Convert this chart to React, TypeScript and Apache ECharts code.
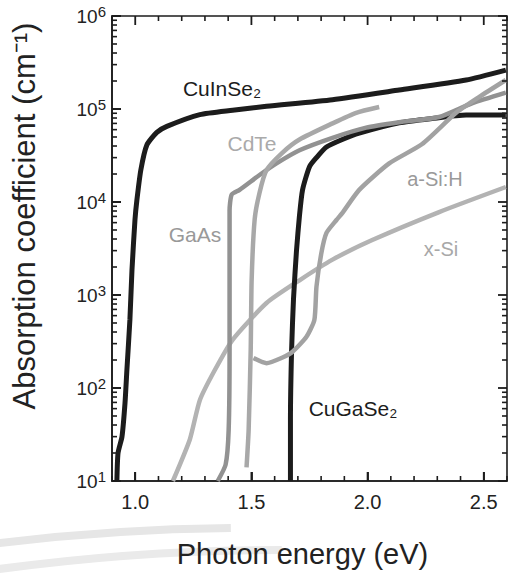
import React, { useEffect, useRef } from "react";
import * as echarts from "echarts";

// Axis ticks
const energyMajorTicks = [1.0, 1.5, 2.0, 2.5];
const energyMinorTicks = [0.9, 1.0, 1.1, 1.2, 1.3, 1.4, 1.5, 1.6, 1.7, 1.8, 1.9, 2.0, 2.1, 2.2, 2.3, 2.4, 2.5, 2.6];
const alphaMajorTicks = [10, 100, 1000, 10000, 100000, 1000000];
const alphaMinorTicks = [
  20, 30, 40, 50, 60, 70, 80, 90,
  200, 300, 400, 500, 600, 700, 800, 900,
  2000, 3000, 4000, 5000, 6000, 7000, 8000, 9000,
  20000, 30000, 40000, 50000, 60000, 70000, 80000, 90000,
  200000, 300000, 400000, 500000, 600000, 700000, 800000, 900000,
];

// [photon energy (eV), absorption coefficient (cm^-1)]
const cuInSe2 = [
  [0.921, 10], [0.926, 20], [0.943, 30], [0.956, 69], [0.964, 155], [0.977, 540],
  [0.986, 1860], [0.999, 6500], [1.007, 10400], [1.024, 22000], [1.05, 41000],
  [1.093, 56000], [1.136, 65000], [1.278, 87000], [1.419, 97000], [1.565, 107000],
  [1.849, 126000], [2.136, 160000], [2.424, 205000], [2.595, 262000],
];
const cuGaSe2 = [
  [1.668, 10], [1.668, 46], [1.673, 258], [1.681, 890], [1.694, 3000], [1.707, 7200],
  [1.72, 13500], [1.75, 24000], [1.78, 30000], [1.823, 39000], [1.891, 47000],
  [1.964, 55000], [2.136, 71000], [2.278, 79000], [2.424, 86000], [2.595, 86000],
];
const gaAs = [
  [1.355, 10], [1.389, 15], [1.402, 35], [1.406, 260], [1.406, 2400], [1.406, 8100],
  [1.415, 12000], [1.449, 13500], [1.535, 19500], [1.608, 26000], [1.707, 36000],
  [1.849, 49000], [1.994, 63000], [2.136, 72000], [2.308, 82000], [2.449, 115000],
  [2.595, 150000],
];
const cdTe = [
  [1.479, 14], [1.488, 35], [1.497, 260], [1.501, 1450], [1.514, 6500], [1.535, 12600],
  [1.565, 22000], [1.634, 34000], [1.707, 47000], [1.849, 70000], [1.951, 91000],
  [2.05, 105000],
];
const aSiH = [
  [1.509, 210], [1.565, 185], [1.634, 213], [1.677, 245], [1.737, 355], [1.771, 540],
  [1.78, 1230], [1.801, 2820], [1.823, 4650], [1.866, 6400], [1.891, 7600],
  [1.964, 13500], [2.093, 26000], [2.235, 42000], [2.381, 91000], [2.479, 134000],
  [2.595, 205000],
];
const xSi = [
  [1.162, 10], [1.235, 28], [1.278, 74], [1.342, 155], [1.419, 330], [1.565, 820],
  [1.707, 1440], [1.849, 2400], [2.02, 3900], [2.308, 7800], [2.595, 14500],
];

const FONT = "'Liberation Sans', Arial, sans-serif";
const INK = "#1c1c1c";
const X_MIN = 0.9;
const X_MAX = 2.6;
const Y_MIN = 10;
const Y_MAX = 1000000;

export default function App() {
  const ref = useRef<HTMLDivElement>(null);

  useEffect(() => {
    document.body.style.margin = "0";
    const chart = echarts.init(ref.current!, null, { renderer: "svg" });

    const line = (name: string, data: number[][], color: string, width: number, z: number) => ({
      type: "line",
      name,
      data,
      showSymbol: false,
      symbol: "none",
      smooth: 0.2,
      z,
      lineStyle: { color, width },
    });

    const tickStyle = (major: boolean) => ({ stroke: INK, lineWidth: major ? 1.8 : 1.6 });

    // inward ticks on all four sides, placed through the axes' own scales
    const energyTickSeries = {
      type: "custom",
      coordinateSystem: "cartesian2d",
      name: "energy ticks",
      silent: true,
      z: 6,
      clip: false,
      data: energyMinorTicks.map((v) => [v, Y_MIN, energyMajorTicks.includes(v) ? 1 : 0]),
      renderItem: (params: any, api: any) => {
        const cs = params.coordSys;
        const p = api.coord([api.value(0), Y_MIN]);
        const major = api.value(2) === 1;
        const len = major ? 9 : 5;
        const bottom = cs.y + cs.height;
        return {
          type: "group",
          children: [
            { type: "line", shape: { x1: p[0], y1: bottom, x2: p[0], y2: bottom - len }, style: tickStyle(major) },
            { type: "line", shape: { x1: p[0], y1: cs.y, x2: p[0], y2: cs.y + len }, style: tickStyle(major) },
          ],
        };
      },
    };
    const alphaTickSeries = {
      type: "custom",
      coordinateSystem: "cartesian2d",
      name: "alpha ticks",
      silent: true,
      z: 6,
      clip: false,
      data: [
        ...alphaMajorTicks.map((v) => [X_MIN, v, 1]),
        ...alphaMinorTicks.map((v) => [X_MIN, v, 0]),
      ],
      renderItem: (params: any, api: any) => {
        const cs = params.coordSys;
        const p = api.coord([X_MIN, api.value(1)]);
        const major = api.value(2) === 1;
        const len = major ? 9 : 5;
        const right = cs.x + cs.width;
        return {
          type: "group",
          children: [
            { type: "line", shape: { x1: cs.x, y1: p[1], x2: cs.x + len, y2: p[1] }, style: tickStyle(major) },
            { type: "line", shape: { x1: right, y1: p[1], x2: right - len, y2: p[1] }, style: tickStyle(major) },
          ],
        };
      },
    };

    chart.setOption({
      animation: false,
      grid: {
        left: 112,
        right: 2,
        top: 16,
        bottom: 93,
        containLabel: false,
        show: true,
        borderColor: INK,
        borderWidth: 1.6,
        backgroundColor: "transparent",
      },
      xAxis: {
        type: "value",
        min: X_MIN,
        max: X_MAX,
        splitLine: { show: false },
        axisLine: { show: true, lineStyle: { color: INK, width: 1.6 } },
        axisTick: { show: true, inside: true, length: 9, customValues: energyMajorTicks, lineStyle: { color: INK, width: 1.8 } },
        axisLabel: {
          customValues: energyMajorTicks,
          formatter: (v: number) => v.toFixed(1),
          fontSize: 20,
          fontFamily: FONT,
          color: "#222",
          margin: 11,
        },
        name: "Photon energy (eV)",
        nameLocation: "middle",
        nameGap: 58,
        nameTextStyle: { fontSize: 29, fontFamily: FONT, color: "#222", padding: [0, 14, 0, 0] },
      },
      yAxis: {
        type: "log",
        logBase: 10,
        min: Y_MIN,
        max: Y_MAX,
        splitLine: { show: false },
        axisLine: { show: true, lineStyle: { color: INK, width: 1.6 } },
        axisTick: { show: true, inside: true, length: 9, lineStyle: { color: INK, width: 1.8 } },
        axisLabel: {
          show: true,
          formatter: (v: number) => `{b|10}{e|${Math.round(Math.log10(v))}}`,
          margin: 6,
          rich: {
            b: { fontSize: 19, fontFamily: FONT, color: "#222", lineHeight: 24 },
            e: { fontSize: 15, fontFamily: FONT, color: "#222", verticalAlign: "top", lineHeight: 15 },
          },
        },
      },
      series: [
        line("x-Si", xSi, "#b3b3b3", 4.5, 2),
        line("CuInSe2", cuInSe2, INK, 5, 3),
        line("CuGaSe2", cuGaSe2, INK, 5, 3),
        line("GaAs", gaAs, "#929292", 4.5, 4),
        line("CdTe", cdTe, "#a8a8a8", 4.5, 4),
        line("a-Si:H", aSiH, "#a2a2a2", 4.5, 4),
        energyTickSeries,
        alphaTickSeries,
      ],
      graphic: [
        {
          type: "arc",
          silent: true,
          z: -10,
          shape: { cx: 250, cy: 2611, r: 2083, startAngle: -1.7, endAngle: -1.58, clockwise: true },
          style: { stroke: "#e6e6e6", lineWidth: 8, fill: null },
        },
        {
          type: "arc",
          silent: true,
          z: -10,
          shape: { cx: 280, cy: 2633, r: 2083, startAngle: -1.71, endAngle: -1.57, clockwise: true },
          style: { stroke: "#eaeaea", lineWidth: 8, fill: null },
        },
        {
          type: "text",
          x: 24,
          y: 216,
          rotation: Math.PI / 2,
          style: { text: "Absorption coefficient (cm⁻¹)", fontSize: 31, fontFamily: FONT, fill: "#222", align: "center", verticalAlign: "middle" },
        },
        { type: "text", x: 222, y: 88, style: { text: "CuInSe₂", fontSize: 21, fontFamily: FONT, fill: INK, align: "center", verticalAlign: "middle" } },
        { type: "text", x: 252, y: 143, style: { text: "CdTe", fontSize: 21, fontFamily: FONT, fill: "#aaaaaa", align: "center", verticalAlign: "middle" } },
        { type: "text", x: 195, y: 234, style: { text: "GaAs", fontSize: 21, fontFamily: FONT, fill: "#999999", align: "center", verticalAlign: "middle" } },
        { type: "text", x: 435, y: 179, style: { text: "a-Si:H", fontSize: 20, fontFamily: FONT, fill: "#9a9a9a", align: "center", verticalAlign: "middle" } },
        { type: "text", x: 441, y: 249, style: { text: "x-Si", fontSize: 20, fontFamily: FONT, fill: "#a8a8a8", align: "center", verticalAlign: "middle" } },
        { type: "text", x: 353, y: 408, style: { text: "CuGaSe₂", fontSize: 21, fontFamily: FONT, fill: INK, align: "center", verticalAlign: "middle" } },
      ],
    });

    return () => chart.dispose();
  }, []);

  return <div ref={ref} style={{ width: 509, height: 574 }} />;
}
